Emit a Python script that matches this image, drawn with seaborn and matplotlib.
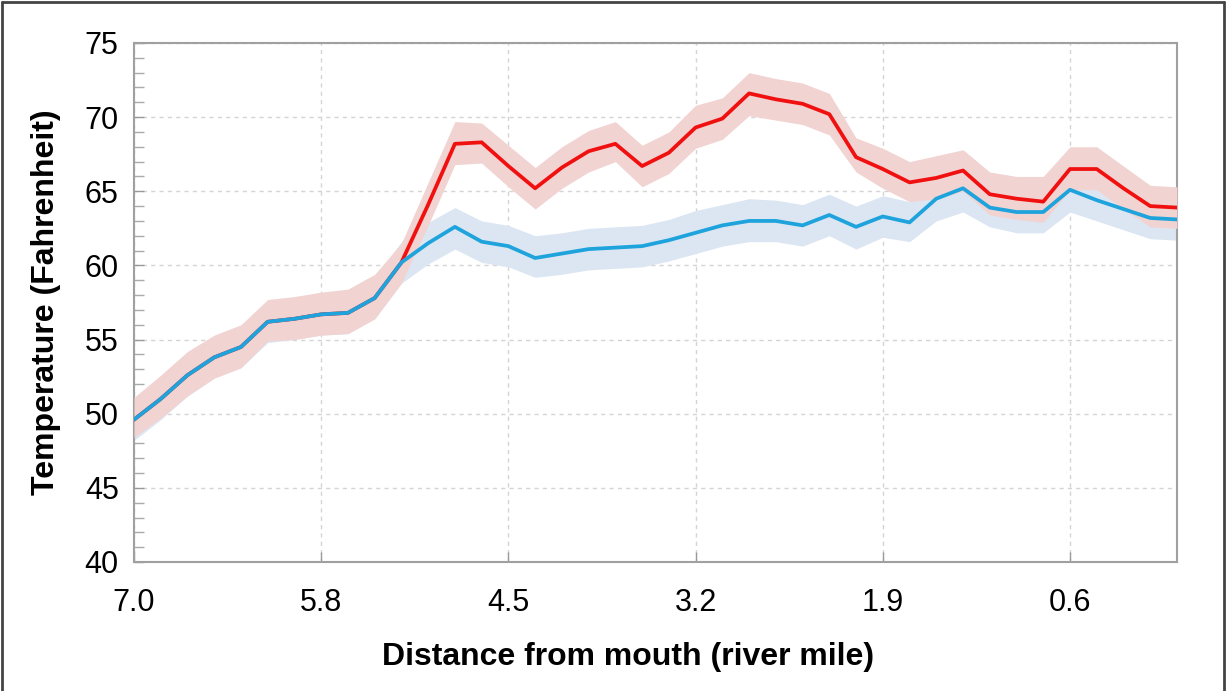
#%% IMPORTS
from matplotlib import pyplot as plt
from matplotlib.lines import Line2D
from matplotlib.ticker import MultipleLocator
import numpy as np
import pandas as pd
import seaborn as sns

#%% DATA  (one value per survey station)
tick_labels = ['7.0', '5.8', '4.5', '3.2', '1.9', '0.6']
tick_every = 7

red_temp = [49.6, 51.0, 52.6, 53.8, 54.5, 56.2, 56.4, 56.7, 56.8, 57.8,
            60.2, 64.1, 68.2, 68.3, 66.7, 65.2, 66.6, 67.7, 68.2, 66.7,
            67.6, 69.3, 69.9, 71.6, 71.2, 70.9, 70.2, 67.3, 66.5, 65.6,
            65.9, 66.4, 64.8, 64.5, 64.3, 66.5, 66.5, 65.2, 64.0, 63.9]
red_hi = [51.1, 52.6, 54.2, 55.3, 56.0, 57.7, 57.9, 58.2, 58.4, 59.4,
          61.5, 65.6, 69.7, 69.6, 68.1, 66.6, 68.0, 69.1, 69.7, 68.1,
          69.0, 70.8, 71.3, 73.0, 72.6, 72.3, 71.6, 68.6, 67.9, 67.0,
          67.4, 67.8, 66.3, 66.0, 66.0, 68.0, 68.0, 66.7, 65.4, 65.3]
red_lo = [48.4, 49.7, 51.2, 52.4, 53.1, 54.9, 55.0, 55.3, 55.4, 56.4,
          58.8, 62.7, 66.8, 66.9, 65.3, 63.8, 65.2, 66.3, 67.0, 65.3,
          66.2, 67.9, 68.5, 70.1, 69.8, 69.5, 68.8, 66.3, 65.2, 64.3,
          64.5, 65.0, 63.4, 63.1, 62.9, 65.1, 65.1, 63.8, 62.6, 62.5]

blue_temp = [49.6, 51.0, 52.6, 53.8, 54.5, 56.2, 56.4, 56.7, 56.8, 57.8,
             60.2, 61.5, 62.6, 61.6, 61.3, 60.5, 60.8, 61.1, 61.2, 61.3,
             61.7, 62.2, 62.7, 63.0, 63.0, 62.7, 63.4, 62.6, 63.3, 62.9,
             64.5, 65.2, 63.9, 63.6, 63.6, 65.1, 64.4, 63.8, 63.2, 63.1]
blue_hi = [51.0, 52.4, 54.0, 55.2, 55.9, 57.6, 57.8, 58.1, 58.2, 59.2,
           61.6, 62.9, 63.9, 63.0, 62.7, 62.0, 62.2, 62.5, 62.6, 62.7,
           63.1, 63.7, 64.1, 64.5, 64.4, 64.1, 64.8, 64.0, 64.7, 64.3,
           65.9, 66.6, 65.3, 65.0, 65.0, 66.5, 65.8, 65.2, 64.6, 64.5]
blue_lo = [48.2, 49.6, 51.2, 52.4, 53.1, 54.8, 55.0, 55.3, 55.4, 56.4,
           58.8, 60.1, 61.1, 60.2, 59.9, 59.2, 59.4, 59.7, 59.8, 59.9,
           60.3, 60.8, 61.3, 61.6, 61.6, 61.3, 62.0, 61.1, 61.9, 61.6,
           63.0, 63.6, 62.6, 62.2, 62.2, 63.6, 63.0, 62.4, 61.8, 61.7]

#%% FRAME
station = np.arange(len(red_temp))
df = pd.DataFrame({'station': station,
                   'red': red_temp, 'red_lo': red_lo, 'red_hi': red_hi,
                   'blue': blue_temp, 'blue_lo': blue_lo, 'blue_hi': blue_hi})

sns.set_theme(style='white')
plt.rcParams['font.family'] = ['Liberation Sans', 'DejaVu Sans']

fig = plt.figure(figsize=(12.26, 6.91), dpi=100)
ax = fig.add_axes([0.1093, 0.1867, 0.8507, 0.7511])

# bands first (blue under red), then lines (blue on top)
ax.fill_between(df['station'], df['blue_lo'], df['blue_hi'], color='#dce6f2', lw=0, zorder=2)
ax.fill_between(df['station'], df['red_lo'], df['red_hi'], color='#f1d3d2', lw=0, zorder=3)
sns.lineplot(data=df, x='station', y='red', color='#f01010', lw=2.7, ax=ax, zorder=4)
sns.lineplot(data=df, x='station', y='blue', color='#1ea3dc', lw=2.7, ax=ax, zorder=5)
for ln in ax.get_lines():
  ln.set_solid_joinstyle('round')

#%% AXES
ax.set_xlim(station[0], station[-1])
ax.set_ylim(40, 75)
ax.set_xticks(station[::tick_every][:len(tick_labels)])
ax.set_xticklabels(tick_labels)
ax.yaxis.set_major_locator(MultipleLocator(5))
ax.yaxis.set_minor_locator(MultipleLocator(1))

ax.tick_params(axis='both', which='major', direction='in', length=7, width=1,
               color='#999999', labelsize=22, labelcolor='#000000', pad=11, bottom=True, left=True)
ax.tick_params(axis='y', which='minor', direction='in', length=7, width=1, color='#aaaaaa', left=True)
ax.tick_params(axis='x', pad=19)

ax.grid(True, which='major', color='#d4d4d4', lw=1, ls=(0, (3, 3)))
for sp in ax.spines.values():
  sp.set_color('#a0a0a0')
  sp.set_linewidth(1.5)

ax.set_xlabel('Distance from mouth (river mile)', fontsize=23, fontweight='bold', labelpad=20, color='#000000')
ax.set_ylabel('Temperature (Fahrenheit)', fontsize=23, fontweight='bold', labelpad=17, color='#000000')
ax.xaxis.set_label_coords(0.474, -0.155)

# outer frame around the picture (top, left, right)
for xs, ys in [([0.0015, 0.9985], [0.997, 0.997]), ([0.0015, 0.0015], [0, 0.997]), ([0.9985, 0.9985], [0, 0.997])]:
  fig.add_artist(Line2D(xs, ys, transform=fig.transFigure, color='#444444', lw=2))

plt.savefig('out.png', dpi=100)
plt.close()
